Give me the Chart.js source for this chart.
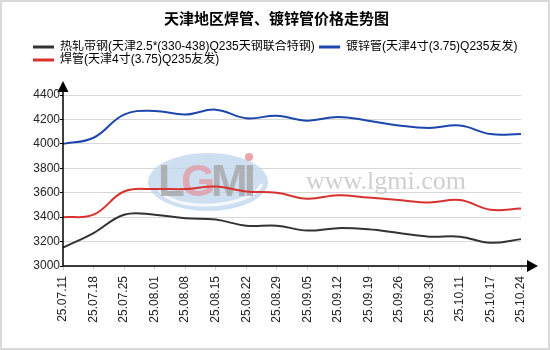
<!DOCTYPE html>
<html>
<head>
<meta charset="utf-8">
<script src="https://cdn.jsdelivr.net/npm/chart.js@4.4.1/dist/chart.umd.min.js"></script>
<style>
  html, body { margin: 0; padding: 0; background: #fff; }
  #wrap { width: 550px; height: 350px; }
</style>
</head>
<body>
<div id="wrap"><canvas id="priceChart" width="550" height="350"></canvas></div>
<script>
// weekly quotes, yuan/ton
const dates = ['25.07.11', '25.07.18', '25.07.25', '25.08.01', '25.08.08', '25.08.15', '25.08.22', '25.08.29',
  '25.09.05', '25.09.12', '25.09.19', '25.09.26', '25.09.30', '25.10.11', '25.10.17', '25.10.24'];
const hotRolled = [3150, 3270, 3420, 3420, 3390, 3380, 3330, 3330, 3290, 3310, 3300, 3270, 3240, 3240, 3190, 3220];
const galvanized = [4000, 4050, 4240, 4270, 4240, 4280, 4210, 4230, 4190, 4220, 4190, 4150, 4130, 4150, 4080, 4080];
const welded = [3400, 3420, 3610, 3630, 3630, 3650, 3610, 3600, 3550, 3580, 3560, 3540, 3520, 3540, 3460, 3470];
const yTicks = [3000, 3200, 3400, 3600, 3800, 4000, 4200, 4400];

const FONT = '"Liberation Sans", Arial, "Noto Sans CJK SC", sans-serif';

// let the legend use the full width and leave a gap under it
const legendGap = {
  id: 'legendGap',
  beforeInit(chart) {
    const fit = chart.legend.fit;
    chart.legend.fit = function () {
      this.maxWidth = chart.width;
      fit.call(this);
      this.height += 19;
    };
  }
};

// frame, watermark and arrowed axes
const decor = {
  id: 'decor',
  beforeDraw(chart) {
    const ctx = chart.ctx;
    ctx.save();
    ctx.fillStyle = '#fff';
    ctx.fillRect(0, 0, chart.width, chart.height);
    ctx.strokeStyle = '#d9d9d9';
    ctx.lineWidth = 2;
    ctx.strokeRect(1, 1, chart.width - 2, chart.height - 2);
    ctx.restore();
  },
  beforeDatasetsDraw(chart) {
    const ctx = chart.ctx;
    ctx.save();
    // logo oval
    const cx = 208, cy = 182;
    ctx.beginPath();
    ctx.ellipse(cx, cy, 60, 29, 0, 0, Math.PI * 2);
    ctx.fillStyle = 'rgba(190, 212, 238, 0.75)';
    ctx.fill();
    ctx.beginPath();
    ctx.ellipse(cx + 2, cy + 1, 52, 22, -0.05, Math.PI * 0.05, Math.PI * 0.95);
    ctx.strokeStyle = 'rgba(255, 255, 255, 0.8)';
    ctx.lineWidth = 3;
    ctx.stroke();
    ctx.font = 'bold 44px "Liberation Sans", sans-serif';
    ctx.textBaseline = 'middle';
    ctx.textAlign = 'left';
    const letters = [['L', 'rgba(165,165,165,0.8)'], ['G', 'rgba(225,155,165,0.8)'], ['M', 'rgba(165,165,165,0.8)'], ['I', 'rgba(165,165,165,0.8)']];
    let x = 158;
    letters.forEach(([ch, col]) => {
      ctx.fillStyle = col;
      ctx.fillText(ch, x, cy + 2);
      x += ctx.measureText(ch).width - 4;
    });
    ctx.beginPath();
    ctx.arc(249, 157, 4, 0, Math.PI * 2);
    ctx.fillStyle = 'rgba(235,140,150,0.8)';
    ctx.fill();
    // site address
    ctx.font = '26px "Liberation Serif", serif';
    ctx.fillStyle = 'rgba(175,175,175,0.6)';
    ctx.textAlign = 'center';
    ctx.textBaseline = 'alphabetic';
    ctx.fillText('www.lgmi.com', 386, 189);
    ctx.restore();
  },
  afterDraw(chart) {
    const ctx = chart.ctx;
    const { left, right, top, bottom } = chart.chartArea;
    ctx.save();
    ctx.strokeStyle = '#000';
    ctx.fillStyle = '#000';
    ctx.lineWidth = 1.5;
    ctx.beginPath();
    ctx.moveTo(left, bottom);
    ctx.lineTo(left, top - 4);
    ctx.moveTo(left, bottom);
    ctx.lineTo(right + 7, bottom);
    ctx.stroke();
    // y arrow
    ctx.beginPath();
    ctx.moveTo(left, top - 14);
    ctx.lineTo(left - 5.5, top - 3);
    ctx.lineTo(left + 5.5, top - 3);
    ctx.closePath();
    ctx.fill();
    // x arrow
    ctx.beginPath();
    ctx.moveTo(right + 17, bottom);
    ctx.lineTo(right + 6, bottom - 6);
    ctx.lineTo(right + 6, bottom + 6);
    ctx.closePath();
    ctx.fill();
    ctx.restore();
  }
};

function makeSeries(label, data, color) {
  return {
    label: label,
    data: data,
    borderColor: color,
    backgroundColor: color,
    borderWidth: 2,
    pointRadius: 0,
    tension: 0.4,
    fill: false
  };
}

const ctx = document.getElementById('priceChart').getContext('2d');
new Chart(ctx, {
  type: 'line',
  data: {
    labels: dates,
    datasets: [
      makeSeries('热轧带钢(天津2.5*(330-438)Q235天钢联合特钢)', hotRolled, '#333333'),
      makeSeries('镀锌管(天津4寸(3.75)Q235友发)', galvanized, '#1c46ad'),
      makeSeries('焊管(天津4寸(3.75)Q235友发)', welded, '#d8322f')
    ]
  },
  options: {
    responsive: false,
    animation: false,
    layout: { padding: { left: 32, right: 29, top: 0, bottom: 0 } },
    plugins: {
      title: {
        display: true,
        text: '天津地区焊管、镀锌管价格走势图',
        color: '#000',
        font: { family: '"Noto Sans CJK SC", sans-serif', size: 15, weight: 'bold' },
        padding: { top: 9, bottom: 13 }
      },
      legend: {
        display: true,
        position: 'top',
        align: 'start',
        labels: {
          color: '#111',
          font: { family: FONT, size: 12 },
          boxWidth: 21,
          boxHeight: 3,
          padding: 1,
          generateLabels(chart) {
            return chart.data.datasets.map((ds, i) => ({
              text: i === 0 ? ds.label + ' ' : ds.label,
              fillStyle: ds.borderColor,
              strokeStyle: ds.borderColor,
              lineWidth: 0,
              datasetIndex: i
            }));
          }
        }
      },
      tooltip: { enabled: false }
    },
    scales: {
      x: {
        type: 'category',
        offset: false,
        afterFit(scale) { scale.height = 84; },
        border: { display: false },
        grid: { drawOnChartArea: false, drawTicks: true, tickLength: 4, color: '#cfcfcf' },
        ticks: {
          color: '#222',
          font: { family: FONT, size: 12 },
          minRotation: 90,
          maxRotation: 90,
          autoSkip: false,
          padding: 6
        }
      },
      y: {
        min: 3000,
        max: 4400,
        afterFit(scale) { scale.width = 31; },
        afterBuildTicks(scale) { scale.ticks = yTicks.map(v => ({ value: v })); },
        border: { display: false },
        grid: { color: '#d6d6d6', lineWidth: 1, tickColor: '#000', tickLength: 3 },
        ticks: {
          color: '#222',
          font: { family: FONT, size: 12 },
          padding: 0,
          callback: v => String(v)
        }
      }
    }
  },
  plugins: [legendGap, decor]
});
</script>
</body>
</html>
